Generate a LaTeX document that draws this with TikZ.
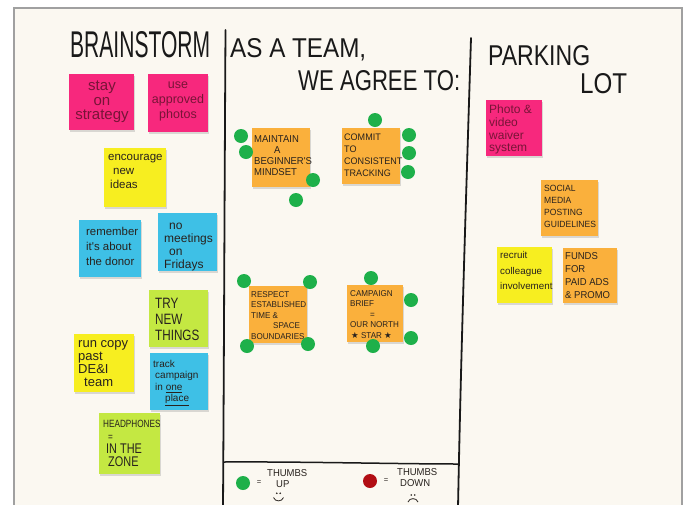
\documentclass[tikz,border=0pt]{standalone}
\usepackage{fontspec}
\usepackage{graphicx}
\usetikzlibrary{shadows}
\setmainfont{Liberation Sans}
\newfontfamily\handfont{Liberation Sans}
\newfontfamily\capsfontA[FakeStretch=0.95]{Liberation Sans}
\newfontfamily\capsfontB[FakeStretch=0.78]{Liberation Sans}
\newfontfamily\symfont{DejaVu Sans}
\newcommand\hand[2]{\handfont\fontsize{#1}{#2}\selectfont}
\newcommand\capsA[2]{\capsfontA\fontsize{#1}{#2}\selectfont}
\newcommand\capsB[2]{\capsfontB\fontsize{#1}{#2}\selectfont}

\definecolor{board}{RGB}{251,248,241}
\definecolor{framegray}{RGB}{160,160,160}
\definecolor{marker}{RGB}{25,25,25}
\definecolor{inkc}{RGB}{40,34,30}
\definecolor{pinkink}{RGB}{120,20,55}
\definecolor{pinkn}{RGB}{247,40,125}
\definecolor{yellown}{RGB}{247,238,32}
\definecolor{bluen}{RGB}{62,192,230}
\definecolor{limen}{RGB}{196,232,66}
\definecolor{orangen}{RGB}{250,176,60}
\definecolor{dotgreen}{RGB}{30,176,74}
\definecolor{dotred}{RGB}{178,14,20}

\begin{document}
\begin{tikzpicture}[x=1pt,y=-1pt,
  note/.style={rectangle, inner sep=0pt,
    drop shadow={shadow xshift=0.8pt, shadow yshift=-2.2pt, opacity=0.3, fill=black!45}},
  ink/.style={inner sep=0pt, text=inkc, align=left},
  dot/.style={circle, inner sep=0pt, minimum size=14pt, fill=dotgreen},
  title/.style={inner sep=0pt, anchor=base west, text=marker},
  pen/.style={draw=marker, line width=1.8pt, line cap=round, line join=round}]
\useasboundingbox (0,0) rectangle (683,504);
\fill[white] (0,0) rectangle (683,504);

% whiteboard and its frame
\fill[board] (14,8) rectangle (682,510);
\draw[framegray, line width=1.6pt] (14,512) -- (14,8) -- (682,8) -- (682,512);

% marker lines dividing the board
\coordinate (leftTop) at (225.5,30);
\coordinate (leftBot) at (223,508);
\coordinate (rightTop) at (471,38);
\coordinate (rightBot) at (458,508);
\coordinate (legL) at (224,462);
\coordinate (legR) at (459,464);
\draw[pen] (leftTop) .. controls (224.5,200) and (224,350) .. (leftBot);
\draw[pen] (rightTop) .. controls (466,200) and (461,350) .. (rightBot);
\draw[pen, line width=1.5pt] (legL) .. controls (300,461.5) and (400,464) .. (legR);

% headings
\node[title] (brainstorm) at (70,57) {\resizebox{140pt}{26pt}{BRAINSTORM}};
\node[title] (asateam) at (230,57) {\resizebox{136pt}{19pt}{AS A TEAM,}};
\node[title] (weagree) at (298,90) {\resizebox{162pt}{20pt}{WE AGREE TO:}};
\node[title] (parking) at (488,65) {\resizebox{102pt}{20pt}{PARKING}};
\node[title] (lot) at (580,93) {\resizebox{47pt}{20pt}{LOT}};

% brainstorm notes
\node[note, fill=pinkn, minimum width=65pt, minimum height=56pt] (nStrategy) at (101.5,102) {};
\node[ink, align=center, anchor=north, text=pinkink, font=\hand{15}{14.5}] (tStrategy) at (102,81) {stay\\on\\strategy};

\node[note, fill=pinkn, minimum width=60pt, minimum height=58pt] (nPhotos) at (178,103) {};
\node[ink, align=center, anchor=north, text=pinkink, font=\hand{12.5}{15}] (tPhotos) at (178,82) {use\\approved\\photos};

\node[note, fill=yellown, minimum width=62pt, minimum height=59pt] (nIdeas) at (135,177.5) {};
\node[ink, anchor=north west, font=\hand{11.5}{14}] (tIdeas) at (108,154) {encourage\\\hspace*{5pt}new\\\hspace*{2pt}ideas};

\node[note, fill=bluen, minimum width=62pt, minimum height=57pt] (nDonor) at (110,248.5) {};
\node[ink, anchor=north west, font=\hand{11.4}{15}] (tDonor) at (86,227) {remember\\it's about\\the donor};

\node[note, fill=bluen, minimum width=59pt, minimum height=58pt] (nFridays) at (187.5,242) {};
\node[ink, anchor=north west, font=\hand{12}{13}] (tFridays) at (164,223) {\hspace*{5pt}no\\meetings\\\hspace*{5pt}on\\Fridays};

\node[note, fill=limen, minimum width=59pt, minimum height=57pt] (nThings) at (178.5,318.5) {};
\node[ink, anchor=north west, font=\capsB{15}{16}] (tThings) at (155,298) {TRY\\NEW\\THINGS};

\node[note, fill=yellown, minimum width=60pt, minimum height=58pt] (nDei) at (104,363) {};
\node[ink, anchor=north west, font=\hand{13}{13}] (tDei) at (78,340) {run copy\\past\\DE\&I\\\hspace*{6pt}team};

\node[note, fill=bluen, minimum width=58pt, minimum height=57pt] (nTrack) at (179,381.5) {};
\node[ink, anchor=north west, font=\hand{10}{11.5}] (tTrack) at (153,360) {track\\\hspace*{2pt}campaign\\\hspace*{2pt}in \underline{one}\\\hspace*{12pt}\underline{place}};

\node[note, fill=limen, minimum width=61pt, minimum height=61pt] (nZone) at (129.5,443.5) {};
\node[ink, anchor=north west, font=\capsB{10.5}{13}] (tZone) at (103,420) {HEADPHONES\\\hspace*{5pt}=\\{\fontsize{14}{13}\selectfont\hspace*{3pt}IN THE}\\{\fontsize{14}{13}\selectfont\hspace*{5pt}ZONE}};

% team agreements
\node[note, fill=orangen, minimum width=58pt, minimum height=59pt] (nMindset) at (281,157.5) {};
\node[ink, anchor=north west, font=\capsA{10}{11.3}] (tMindset) at (254,135) {MAINTAIN\\\hspace*{20pt}A\\BEGINNER'S\\MINDSET};

\node[note, fill=orangen, minimum width=58pt, minimum height=56pt] (nTracking) at (371,156) {};
\node[ink, anchor=north west, font=\capsA{9.5}{12}] (tTracking) at (344,134) {COMMIT\\TO\\CONSISTENT\\TRACKING};

\node[note, fill=orangen, minimum width=58pt, minimum height=57pt] (nBounds) at (278,314.5) {};
\node[ink, anchor=north west, font=\capsA{8.5}{10.5}] (tBounds) at (251,291) {RESPECT\\ESTABLISHED\\TIME \&\\\hspace*{22pt}SPACE\\BOUNDARIES};

\node[note, fill=orangen, minimum width=56pt, minimum height=57pt] (nBrief) at (375,313.5) {};
\node[ink, anchor=north west, font=\capsA{8.5}{10.5}] (tBrief) at (350,290) {CAMPAIGN\\BRIEF\\\hspace*{20pt}=\\OUR NORTH\\\hspace*{1pt}{\symfont ★} STAR {\symfont ★}};

% votes
\node[dot] (v1) at (241,136) {};
\node[dot] (v2) at (246,152) {};
\node[dot] (v3) at (313,180) {};
\node[dot] (v4) at (296,200) {};
\node[dot] (v5) at (375,120) {};
\node[dot] (v6) at (409,135) {};
\node[dot] (v7) at (409,153) {};
\node[dot] (v8) at (408,172) {};
\node[dot] (v9) at (244,281) {};
\node[dot] (v10) at (310,282) {};
\node[dot] (v11) at (247,346) {};
\node[dot] (v12) at (308,344) {};
\node[dot] (v13) at (371,278) {};
\node[dot] (v14) at (411,300) {};
\node[dot] (v15) at (411,338) {};
\node[dot] (v16) at (373,346) {};

% parking lot notes
\node[note, fill=pinkn, minimum width=56pt, minimum height=56pt] (nWaiver) at (514,128) {};
\node[ink, anchor=north west, text=pinkink, font=\hand{12}{12.7}] (tWaiver) at (489,105) {Photo \&\\video\\waiver\\system};

\node[note, fill=orangen, minimum width=57pt, minimum height=56pt] (nGuide) at (569.5,208) {};
\node[ink, anchor=north west, font=\capsA{9}{12}] (tGuide) at (544,185) {SOCIAL\\MEDIA\\POSTING\\GUIDELINES};

\node[note, fill=yellown, minimum width=55pt, minimum height=56pt] (nRecruit) at (524.5,275) {};
\node[ink, anchor=north west, font=\hand{9.8}{15.5}] (tRecruit) at (500,251.5) {recruit\\colleague\\involvement};

\node[note, fill=orangen, minimum width=54pt, minimum height=55pt] (nFunds) at (590,275.5) {};
\node[ink, anchor=north west, font=\capsA{10}{13}] (tFunds) at (565,252) {FUNDS\\FOR\\PAID ADS\\\& PROMO};

% legend
\node[dot] (upDot) at (243,483) {};
\node[ink, font=\capsA{8}{8}] (upEq) at (259,483) {=};
\node[ink, anchor=north west, font=\capsA{10}{11}] (upText) at (267,469) {THUMBS\\\hspace*{9pt}UP};
\fill[inkc] (276.8,493.3) circle (0.9pt) (280.2,493.3) circle (0.9pt);
\draw[inkc, line width=0.8pt] (273.5,497.5) .. controls (275,502) and (282,502) .. (283.5,497.5);

\node[dot, fill=dotred] (downDot) at (370,481) {};
\node[ink, font=\capsA{8}{8}] (downEq) at (386,481) {=};
\node[ink, anchor=north west, font=\capsA{10}{11}] (downText) at (397,468.5) {THUMBS\\\hspace*{3pt}DOWN};
\fill[inkc] (411.3,495) circle (0.9pt) (414.7,495) circle (0.9pt);
\draw[inkc, line width=0.8pt] (408,502) .. controls (409.5,497.5) and (416.5,497.5) .. (418,502);
\end{tikzpicture}
\end{document}
